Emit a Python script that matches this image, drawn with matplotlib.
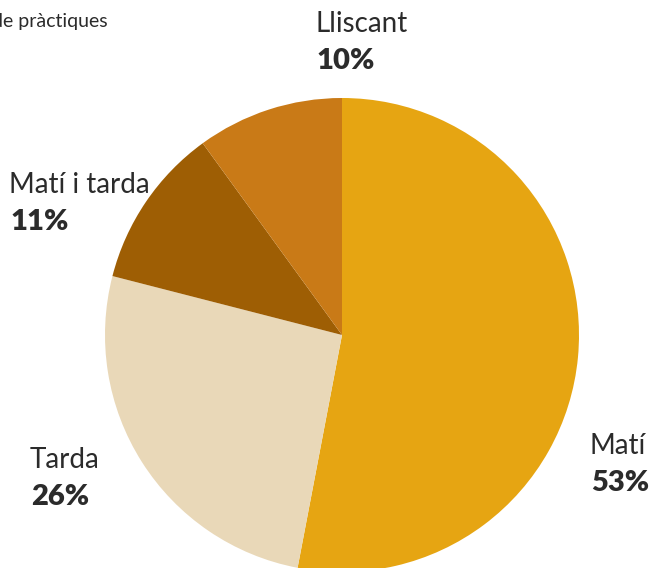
import matplotlib.pyplot as plt

# dades
categories = ['Matí', 'Tarda', 'Matí i tarda', 'Lliscant']
valors = [53, 26, 11, 10]
colors = ['#E6A512', '#E9D8B8', '#9E5E04', '#C97A17']

fig = plt.figure(figsize=(6.52, 5.68), dpi=100)
ax = fig.add_axes([0, 0, 1, 1])
ax.pie(valors, colors=colors, startangle=90, counterclock=False,
       center=(342, 568 - 335), radius=237,
       wedgeprops=dict(linewidth=0))
ax.set_xlim(0, 652)
ax.set_ylim(0, 568)
ax.set_aspect('equal')
ax.axis('off')

text_color = '#2b2b2b'
# posicions de les etiquetes (x, y del nom en píxels des de dalt)
pos = {'Matí': (590, 446), 'Tarda': (30, 460),
       'Matí i tarda': (9, 185), 'Lliscant': (316, 24)}
for cat, v in zip(categories, valors):
    x, y = pos[cat]
    ax.text(x, 568 - y, cat, fontsize=20, family='Lato', fontweight='normal',
            color=text_color, va='center', ha='left')
    ax.text(x + 1, 568 - y - 37, f'{v}%', fontsize=21, family='Lato', fontweight='heavy',
            color=text_color, va='center', ha='left')

ax.text(-8, 568 - 21, 'de pràctiques', fontsize=14, family='Lato', fontweight='normal',
        color=text_color, va='center', ha='left')

fig.savefig('out.png', dpi=100)
